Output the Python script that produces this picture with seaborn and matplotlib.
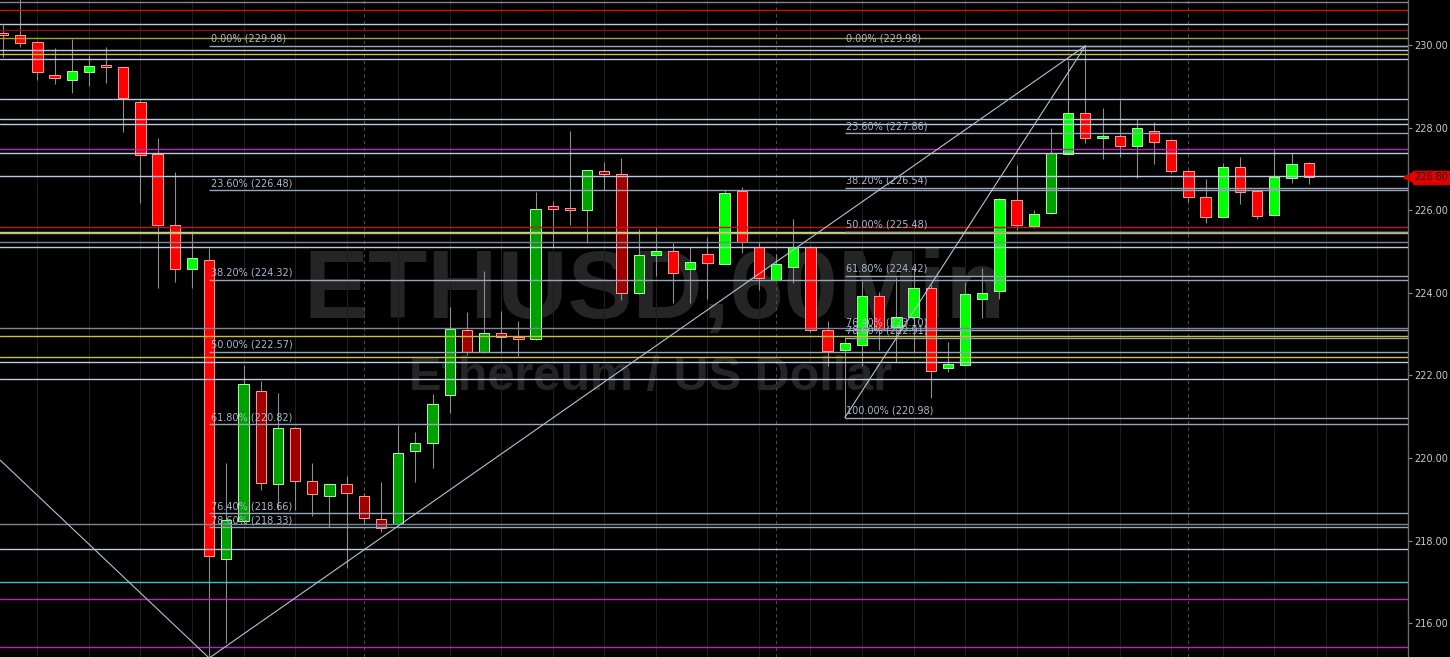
import numpy as np
import matplotlib
matplotlib.use("Agg")
import matplotlib.pyplot as plt
import seaborn as sns

# hourly ETHUSD candles (oldest first)
open_ = [230.27, 230.24, 230.07, 229.27, 229.15, 229.35, 229.50, 229.46, 228.63, 227.36,
         225.64, 224.59, 224.80, 217.55, 218.48, 221.62, 219.37, 220.74, 219.45, 219.08,
         219.37, 219.09, 218.52, 218.40, 220.18, 220.37, 221.53, 223.10, 222.58, 223.02,
         222.94, 222.88, 226.11, 226.05, 226.00, 226.95, 226.88, 223.99, 224.91, 225.01,
         224.57, 224.94, 224.71, 226.47, 225.12, 224.31, 224.63, 225.12, 223.10, 222.62,
         222.75, 223.92, 223.17, 223.41, 224.13, 222.19, 222.25, 223.86, 224.05, 226.25,
         225.63, 225.93, 227.36, 228.35, 227.74, 227.80, 227.56, 227.93, 227.70, 226.95,
         226.31, 225.83, 227.04, 226.47, 225.88, 226.77, 227.14]
high = [230.48, 231.30, 230.10, 229.93, 230.14, 229.76, 229.96, 229.48, 228.66, 227.76,
        226.92, 225.47, 225.08, 219.89, 222.25, 221.87, 221.57, 220.76, 219.87, 219.37,
        219.57, 219.15, 219.43, 220.80, 220.64, 221.54, 223.67, 223.53, 224.53, 223.56,
        223.33, 226.45, 226.23, 227.92, 226.97, 227.18, 227.26, 225.55, 225.59, 225.20,
        225.12, 225.36, 226.49, 226.56, 225.22, 224.94, 225.78, 225.14, 223.33, 222.92,
        224.29, 224.03, 224.39, 224.63, 224.19, 222.82, 224.27, 224.61, 226.30, 227.10,
        226.00, 227.98, 229.61, 229.98, 228.47, 228.67, 228.20, 228.14, 227.72, 226.97,
        226.75, 227.14, 227.30, 226.49, 227.50, 227.38, 227.16]
low = [229.71, 229.95, 229.15, 229.06, 228.85, 229.01, 229.09, 227.90, 226.18, 224.12,
       224.27, 224.11, 215.16, 215.52, 218.45, 219.23, 218.74, 218.74, 218.60, 218.34,
       217.35, 218.40, 218.22, 218.38, 219.43, 219.75, 221.10, 222.50, 222.55, 222.55,
       222.48, 222.85, 225.12, 225.64, 225.20, 226.49, 223.83, 223.98, 224.42, 223.75,
       223.76, 223.85, 224.70, 224.97, 224.07, 224.31, 224.23, 223.05, 222.23, 220.98,
       222.23, 222.62, 222.33, 222.58, 221.45, 222.09, 222.23, 223.38, 223.84, 225.52,
       225.56, 225.90, 227.36, 227.62, 227.23, 227.30, 226.77, 227.12, 226.91, 226.21,
       225.70, 225.83, 226.15, 225.80, 225.88, 226.65, 226.64]
close = [230.25, 230.05, 229.35, 229.21, 229.37, 229.50, 229.48, 228.72, 227.34, 225.64,
         224.59, 224.84, 217.64, 218.50, 221.79, 219.39, 220.74, 219.45, 219.13, 219.37,
         219.15, 218.56, 218.32, 220.13, 220.37, 221.30, 223.13, 222.58, 223.02, 222.93,
         222.88, 226.02, 226.02, 226.01, 226.97, 226.87, 224.00, 224.92, 225.01, 224.49,
         224.75, 224.72, 226.41, 225.24, 224.37, 224.70, 225.12, 223.10, 222.60, 222.78,
         223.92, 223.10, 223.42, 224.13, 222.12, 222.27, 223.97, 223.99, 226.27, 225.64,
         225.91, 227.38, 228.35, 227.74, 227.80, 227.55, 227.98, 227.66, 226.96, 226.33,
         225.83, 227.04, 226.45, 225.87, 226.80, 227.11, 226.80]
# 1 = bright candle, 0 = dim candle (platform's momentum colouring)
momentum = [0, 1, 1, 1, 1, 1, 0, 1, 1, 1,
            1, 1, 1, 0, 0, 0, 0, 0, 0, 0,
            0, 0, 0, 0, 0, 0, 0, 0, 0, 0,
            0, 0, 0, 0, 0, 0, 0, 0, 1, 1,
            1, 1, 1, 1, 1, 1, 1, 1, 1, 1,
            1, 1, 1, 1, 1, 1, 1, 1, 1, 1,
            1, 0, 1, 1, 1, 1, 1, 1, 1, 1,
            1, 1, 1, 1, 1, 1, 1]

# horizontal support / resistance levels
gray_levels = [231.05, 225.22, 223.16, 218.40]
light_levels = [230.52, 229.88, 229.66, 228.69, 228.21, 228.09, 227.38, 226.83,
                225.48, 225.12, 222.32, 221.91, 217.79]
red_levels = [230.84, 225.60]
darkred_levels = [230.37]
yellow_levels = [229.78, 225.44, 222.95, 222.44]
olive_levels = [230.18]
magenta_levels = [227.49, 216.59, 215.43]
cyan_levels = [216.99]

# fibonacci retracements
fib_pcts = ["0.00%", "23.60%", "38.20%", "50.00%", "61.80%", "76.40%", "78.60%", "100.00%"]
fib1_prices = [229.98, 226.48, 224.32, 222.57, 220.82, 218.66, 218.33, 215.16]
fib2_prices = [229.98, 227.86, 226.54, 225.48, 224.42, 223.10, 222.91, 220.98]
fib1_start = 12
fib2_start = 49

# trend lines (bar index, price)
trend_a = ([-1, 12], [220.28, 215.16])
trend_b = ([12, 63], [215.16, 229.98])
trend_c = ([49, 63], [220.98, 229.98])

last_price = 226.80
y_ticks = [216, 218, 220, 222, 224, 226, 228, 230]

sns.set_theme(style="dark")
plt.rcParams["font.family"] = ["DejaVu Sans"]

fig = plt.figure(figsize=(14.5, 6.57), dpi=100, facecolor="black")
ax = fig.add_axes([0, 0, 1408 / 1450, 1])
ax.set_facecolor("black")

n = len(close)
x = np.arange(n)
o = np.array(open_)
c = np.array(close)
up = c >= o
strong = np.array(momentum) == 1

ax.set_xlim(-3 / 17.18, 1405 / 17.18)
ax.set_ylim(215.185, 231.09)

# watermark
ax.text(37.9, 224.0, "ETHUSD,60Min", fontsize=70, fontweight="bold",
        family="Liberation Sans", color="#252525", ha="center", va="center", zorder=0)
ax.text(37.7, 221.96, "Ethereum / US Dollar", fontsize=35, fontweight="bold",
        family="Liberation Sans", color="#252525", ha="center", va="center", zorder=0)

# vertical grid: every 3 bars, dashed day separators
for g in range(2, 83, 3):
    ax.axvline(g, color="#1e1e1e", lw=0.8, zorder=0.5)
for d in [21, 45, 69]:
    ax.axvline(d, color="#4a4a4a", lw=0.8, ls=(0, (3, 3)), zorder=0.6)

# candles
fill = np.where(up, np.where(strong, "#00ff00", "#00a000"),
                np.where(strong, "#ff0000", "#a00000"))
edge = np.where(up, "#a8ffa8", "#ff9c9c")
ax.vlines(x, low, high, color="#8c8c8c", lw=0.8, zorder=2)
body = np.maximum(np.abs(c - o), 0.03)
ax.bar(x, body, bottom=np.minimum(o, c), width=0.6, color=fill,
       edgecolor=edge, linewidth=0.7, zorder=3)

# horizontal levels
level_styles = [
    (gray_levels, "#7c8896"),
    (light_levels, "#bccbe0"),
    (red_levels, "#c81414"),
    (darkred_levels, "#8c1010"),
    (yellow_levels, "#c8c040"),
    (olive_levels, "#a8a030"),
    (magenta_levels, "#c020c0"),
    (cyan_levels, "#3cc8c8"),
]
for levels, col in level_styles:
    for lv in levels:
        ax.axhline(lv, color=col, lw=1.0, zorder=4)

# fibonacci lines and labels
for start, prices in [(fib1_start, fib1_prices), (fib2_start, fib2_prices)]:
    for pct, pr in zip(fib_pcts, prices):
        ax.hlines(pr, start, ax.get_xlim()[1], color="#98a6b8", lw=1.0, zorder=4)
        ax.annotate(f"{pct} ({pr:.2f})", xy=(start, pr), xytext=(1, 1.5),
                    textcoords="offset points", fontsize=7, color="#a8b8d0",
                    ha="left", va="bottom", zorder=5)

# trend lines
for tx, ty in [trend_a, trend_b, trend_c]:
    sns.lineplot(x=tx, y=ty, ax=ax, color="#b4c2d6", lw=0.8, zorder=4)

# right price axis
ax.yaxis.tick_right()
ax.set_yticks(y_ticks)
ax.set_yticklabels([f"{t:.2f}" for t in y_ticks])
ax.tick_params(axis="y", colors="#8c8c8c", labelcolor="#c8c8c8", labelsize=7,
               length=3, width=0.8, pad=1.5, right=True, left=False)
ax.set_xticks([])
ax.grid(False)
for s in ["top", "bottom", "left"]:
    ax.spines[s].set_visible(False)
ax.spines["right"].set_color("#6a6a6a")
ax.spines["right"].set_linewidth(1.0)

# last price tag on the axis
trans = ax.get_yaxis_transform()
ax.plot([1.0], [last_price], marker="<", ms=7, color="#e00000", transform=trans,
        clip_on=False, zorder=6)
ax.text(1.0 + 6 / 1408, last_price, f"{last_price:.2f}", transform=trans, fontsize=7,
        color="#2a0000", ha="left", va="center", clip_on=False, zorder=7,
        bbox=dict(boxstyle="square,pad=0.15", fc="#e00000", ec="#e00000"))

fig.savefig("out.png", dpi=100, facecolor="black")
